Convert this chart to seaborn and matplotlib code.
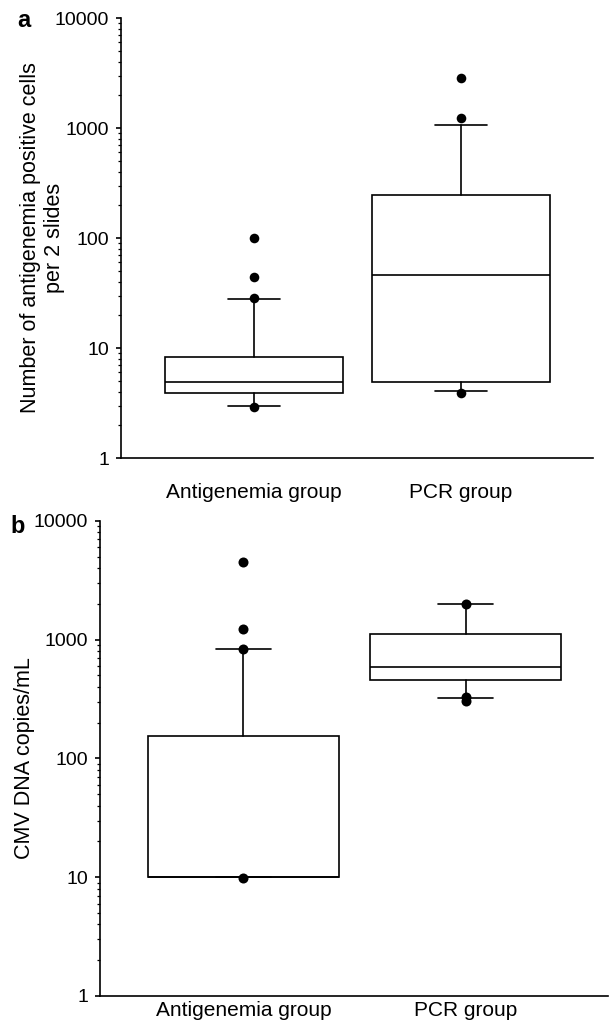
import matplotlib
matplotlib.use('Agg')
import matplotlib.pyplot as plt
import matplotlib.ticker as mticker
import seaborn as sns
import numpy as np
import pandas as pd

groups = ['Antigenemia group', 'PCR group']

# panel a: antigenemia positive cells per 2 slides (box summary per group)
a_whislo = [2.97, 4.1]
a_q1 = [3.9, 4.9]
a_med = [4.9, 46]
a_q3 = [8.3, 246]
a_whishi = [27.9, 1065]
a_out_group = ['Antigenemia group'] * 4 + ['PCR group'] * 3
a_out_value = [100, 44, 28.5, 2.9, 2830, 1230, 3.9]

# panel b: CMV DNA copies/mL
b_whislo = [10, 326]
b_q1 = [10, 458]
b_med = [10, 595]
b_q3 = [155, 1107]
b_whishi = [836, 2000]
b_out_group = ['Antigenemia group'] * 4 + ['PCR group'] * 3
b_out_value = [4520, 1232, 836, 9.86, 2000, 330, 305]

sns.set_style('ticks')
plt.rcParams['font.family'] = ['Liberation Sans', 'DejaVu Sans']
plt.rcParams['text.color'] = 'black'
plt.rcParams['axes.labelcolor'] = 'black'
plt.rcParams['xtick.color'] = 'black'
plt.rcParams['ytick.color'] = 'black'

LW = 1.2


def draw_panel(ax, whislo, q1, med, q3, whishi, out_group, out_value, ylabel, label_x, xpad, dot):
    stats = []
    for i, g in enumerate(groups):
        stats.append(dict(label=g, whislo=whislo[i], q1=q1[i], med=med[i],
                          q3=q3[i], whishi=whishi[i], fliers=[]))
    ax.bxp(stats, positions=[0, 1], widths=0.86, capwidths=0.25, showfliers=False,
           patch_artist=True,
           boxprops=dict(facecolor='white', edgecolor='black', linewidth=LW),
           medianprops=dict(color='black', linewidth=LW),
           whiskerprops=dict(color='black', linewidth=LW),
           capprops=dict(color='black', linewidth=LW))
    # outliers
    df = pd.DataFrame({'group': out_group, 'value': out_value})
    df['pos'] = df['group'].map({g: i for i, g in enumerate(groups)})
    sns.scatterplot(data=df, x='pos', y='value', color='black', s=dot,
                    linewidth=0, ax=ax, zorder=5)
    ax.set_yscale('log')
    ax.set_ylim(1, 10000)
    ax.set_xlim(-0.645, 1.64)
    ax.yaxis.set_major_locator(mticker.LogLocator(base=10, numticks=10))
    ax.yaxis.set_minor_locator(mticker.LogLocator(base=10, subs=np.arange(2, 10), numticks=10))
    ax.yaxis.set_major_formatter(mticker.FuncFormatter(lambda v, p: f'{v:g}'))
    ax.yaxis.set_minor_formatter(mticker.NullFormatter())
    ax.set_xticks([0, 1])
    ax.set_xticklabels(groups, fontsize=15)
    ax.tick_params(axis='x', length=0, pad=xpad)
    ax.tick_params(axis='y', which='major', length=3.5, width=LW, labelsize=14, pad=5)
    ax.tick_params(axis='y', which='minor', length=2.2, width=0.9)
    ax.set_xlabel('')
    ax.set_ylabel(ylabel, fontsize=15.5)
    ax.yaxis.set_label_coords(label_x, 0.5)
    sns.despine(ax=ax)
    for s in ['left', 'bottom']:
        ax.spines[s].set_linewidth(LW)
        ax.spines[s].set_color('black')


fig = plt.figure(figsize=(6.13, 10.29), dpi=100)
ax1 = fig.add_axes([0.1974, 0.5549, 0.770, 0.4276])
ax2 = fig.add_axes([0.1631, 0.0321, 0.8287, 0.4616])

draw_panel(ax1, a_whislo, a_q1, a_med, a_q3, a_whishi, a_out_group, a_out_value,
           'Number of antigenemia positive cells\nper 2 slides', -0.118, 18, 48)
draw_panel(ax2, b_whislo, b_q1, b_med, b_q3, b_whishi, b_out_group, b_out_value,
           'CMV DNA copies/mL', -0.128, 3.6, 52)

fig.text(0.0277, 0.9738, 'a', fontsize=17, fontweight='bold', va='baseline')
fig.text(0.0163, 0.482, 'b', fontsize=17, fontweight='bold', va='baseline')

fig.savefig('out.png', dpi=100)
